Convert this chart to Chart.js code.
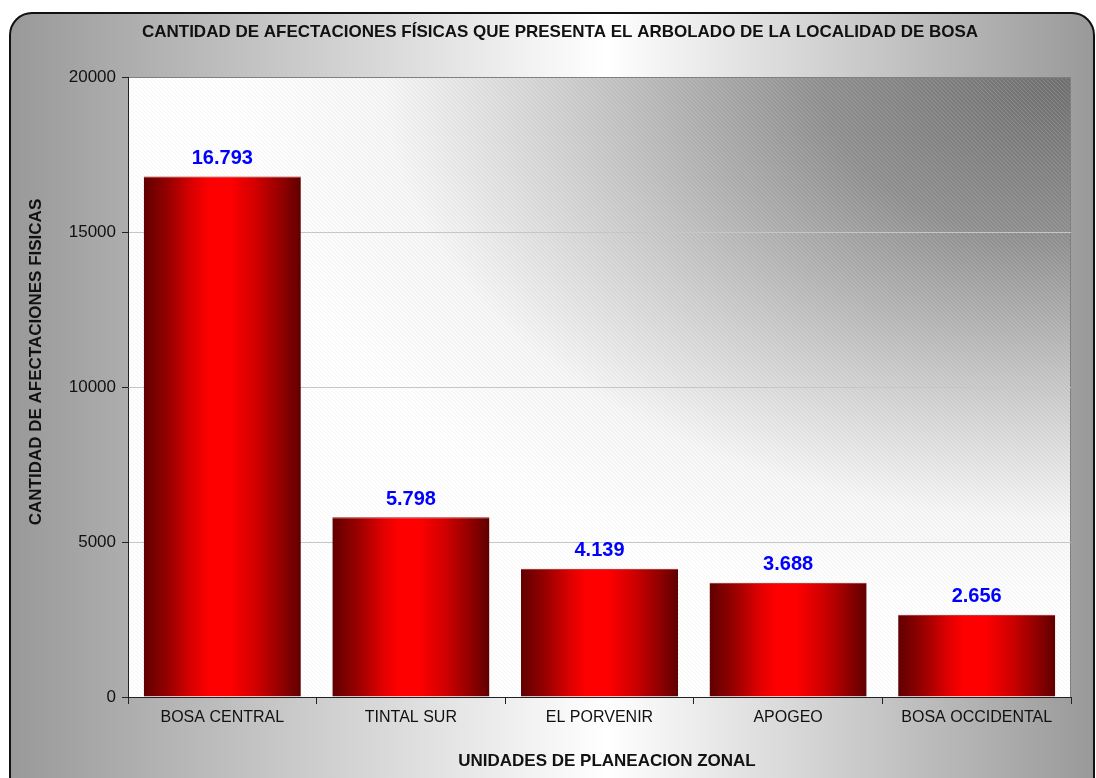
<!DOCTYPE html>
<html>
<head>
<meta charset="utf-8">
<script src="https://cdn.jsdelivr.net/npm/chart.js@4"></script>
<style>
  html, body { margin: 0; padding: 0; background: #fff; }
</style>
</head>
<body>
<canvas id="myChart" width="1096" height="778"></canvas>
<script>
let labels = ["BOSA CENTRAL", "TINTAL SUR", "EL PORVENIR", "APOGEO", "BOSA OCCIDENTAL"];
let values = [16793, 5798, 4139, 3688, 2656];
let yTicks = [0, 5000, 10000, 15000, 20000];
let chartTitle = "CANTIDAD DE AFECTACIONES FÍSICAS QUE PRESENTA EL ARBOLADO DE LA LOCALIDAD DE BOSA";
let xTitle = "UNIDADES DE PLANEACION ZONAL";
let yTitle = "CANTIDAD DE AFECTACIONES FISICAS";

let family = "'Liberation Sans', Arial, sans-serif";
let textColor = "#111";

// 16793 -> "16.793"
let fmt = (v) => String(v).replace(/\B(?=(\d{3})+(?!\d))/g, ".");

// red cylinder-like fill for each bar
let barFill = (context) => {
  let chart = context.chart;
  if (!chart.chartArea) return "#ff0000";
  let xs = chart.scales.x;
  let c = xs.getPixelForValue(context.dataIndex);
  let w = (xs.width / labels.length) * 0.833;
  let g = chart.ctx.createLinearGradient(c - w / 2, 0, c + w / 2, 0);
  g.addColorStop(0, "#600000");
  g.addColorStop(0.15, "#950000");
  g.addColorStop(0.32, "#e00000");
  g.addColorStop(0.42, "#ff0000");
  g.addColorStop(0.55, "#ff0000");
  g.addColorStop(0.72, "#d00000");
  g.addColorStop(0.87, "#950000");
  g.addColorStop(1, "#600000");
  return g;
};

let backdrop = {
  id: "backdrop",
  beforeDraw(chart) {
    let c = chart.ctx;
    let { left, top, right, bottom } = chart.chartArea;
    c.save();
    // outer panel
    let g = c.createLinearGradient(10, 0, 1094, 0);
    g.addColorStop(0, "#999999");
    g.addColorStop(0.55, "#ffffff");
    g.addColorStop(1, "#999999");
    c.beginPath();
    c.roundRect(10, 13, 1084, 820, 22);
    c.fillStyle = g;
    c.fill();
    c.lineWidth = 2;
    c.strokeStyle = "#111";
    c.stroke();
    c.restore();

    // plot area: shading from the top-right corner
    c.save();
    let k = 1.55;
    c.translate(right, top);
    c.scale(k, 1);
    let pg = c.createRadialGradient(0, 0, 0, 0, 0, 540);
    pg.addColorStop(0, "#707070");
    pg.addColorStop(0.3, "#909090");
    pg.addColorStop(0.6, "#cdcdcd");
    pg.addColorStop(0.82, "#f6f6f6");
    pg.addColorStop(1, "#ffffff");
    c.fillStyle = pg;
    c.fillRect((left - right) / k, 0, (right - left) / k, bottom - top);
    c.restore();

    // faint diagonal hatch
    c.save();
    c.beginPath();
    c.rect(left, top, right - left, bottom - top);
    c.clip();
    let h = bottom - top;
    c.lineWidth = 1;
    c.strokeStyle = "rgba(255,255,255,0.13)";
    c.beginPath();
    for (let x = left - h; x < right; x += 4) {
      c.moveTo(x, top);
      c.lineTo(x + h, bottom);
    }
    c.stroke();
    c.strokeStyle = "rgba(0,0,0,0.035)";
    c.beginPath();
    for (let x = left - h + 2; x < right; x += 4) {
      c.moveTo(x, top);
      c.lineTo(x + h, bottom);
    }
    c.stroke();
    c.restore();

    // plot frame top / right
    c.save();
    c.strokeStyle = "#808080";
    c.lineWidth = 1;
    c.beginPath();
    c.moveTo(left, top + 0.5);
    c.lineTo(right - 0.5, top + 0.5);
    c.lineTo(right - 0.5, bottom);
    c.stroke();
    c.restore();

    // titles
    c.save();
    c.font = "bold 17px " + family;
    c.fillStyle = textColor;
    c.textAlign = "center";
    c.textBaseline = "middle";
    c.fillText(chartTitle, 560, 32);
    c.fillText(xTitle, 607, 761);
    c.translate(36, 362);
    c.rotate(-Math.PI / 2);
    c.fillText(yTitle, 0, 0);
    c.restore();
  },
};

let valueLabels = {
  id: "valueLabels",
  afterDatasetsDraw(chart) {
    let c = chart.ctx;
    let meta = chart.getDatasetMeta(0);
    c.save();
    c.font = "bold 20px " + family;
    c.fillStyle = "#0000ff";
    c.textAlign = "center";
    c.textBaseline = "middle";
    meta.data.forEach((bar, i) => {
      c.fillText(fmt(values[i]), bar.x, bar.y - 18);
    });
    c.restore();
  },
};

let ctx = document.getElementById("myChart").getContext("2d");
let myChart = new Chart(ctx, {
  type: "bar",
  data: {
    labels: labels,
    datasets: [
      {
        data: values,
        backgroundColor: barFill,
        borderColor: "#a01010",
        borderWidth: { top: 1, left: 0, right: 0, bottom: 0 },
        barPercentage: 0.833,
        categoryPercentage: 1,
      },
    ],
  },
  options: {
    responsive: false,
    animation: false,
    layout: { padding: { left: 0, right: 25, top: 77, bottom: 0 } },
    plugins: {
      legend: { display: false },
      tooltip: { enabled: false },
      title: { display: false },
    },
    scales: {
      x: {
        grid: {
          display: true,
          drawOnChartArea: false,
          drawTicks: true,
          tickLength: 7,
          color: "#222",
          tickColor: "#222",
        },
        border: { display: true, color: "#222", width: 1 },
        ticks: {
          color: textColor,
          font: { family: family, size: 16 },
          padding: 4,
          maxRotation: 0,
          autoSkip: false,
        },
        afterFit: (s) => {
          s.height = 81;
        },
      },
      y: {
        min: 0,
        max: 20000,
        afterBuildTicks: (s) => {
          s.ticks = yTicks.map((v) => ({ value: v }));
        },
        grid: {
          color: (c) => (c.tick && (c.tick.value === 0 || c.tick.value === 20000) ? "rgba(0,0,0,0)" : "#c6c6c6"),
          tickColor: "#222",
          tickLength: 6,
        },
        border: { display: true, color: "#222", width: 1 },
        ticks: {
          color: textColor,
          font: { family: family, size: 17 },
          padding: 6,
          callback: (v) => String(v),
        },
        afterFit: (s) => {
          s.width = 128;
        },
      },
    },
  },
  plugins: [backdrop, valueLabels],
});
</script>
</body>
</html>
